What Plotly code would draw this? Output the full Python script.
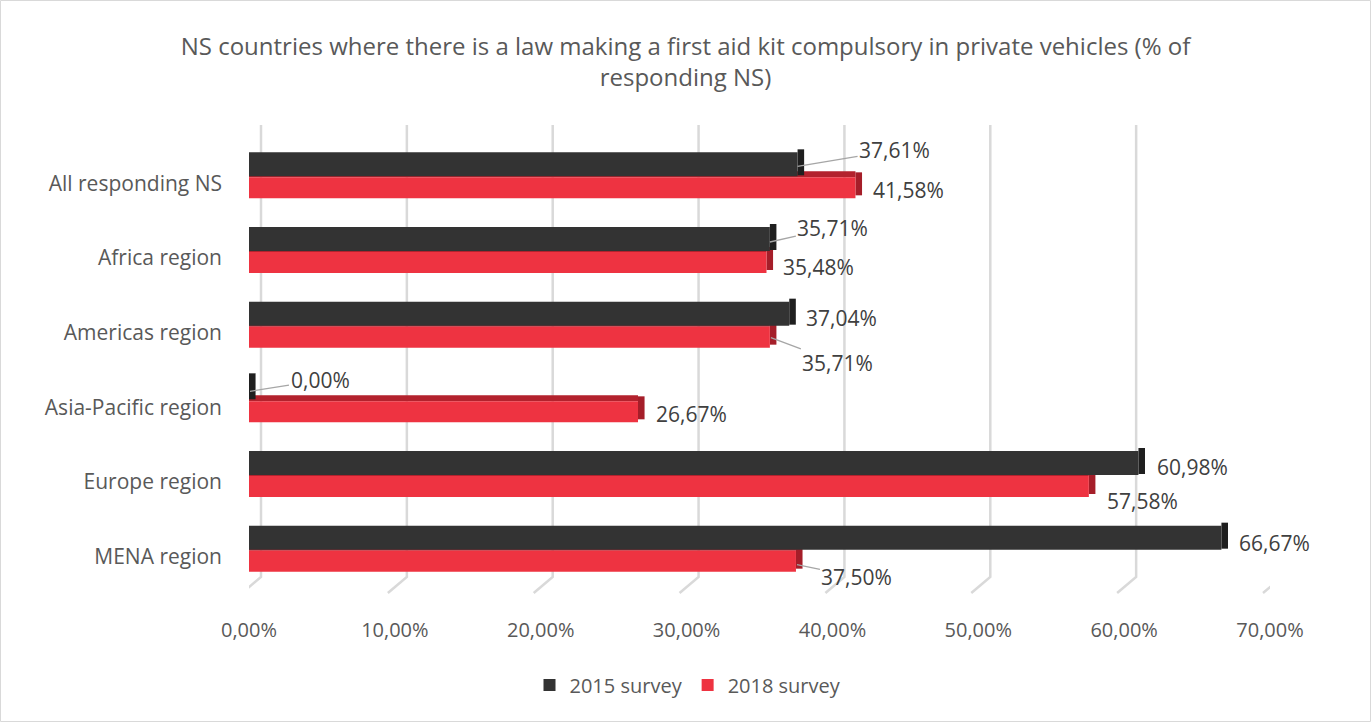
import plotly.graph_objects as go

# --- data -------------------------------------------------------------
categories = [
    "All responding NS",
    "Africa region",
    "Americas region",
    "Asia-Pacific region",
    "Europe region",
    "MENA region",
]
survey_2015 = [37.61, 35.71, 37.04, 0.00, 60.98, 66.67]
survey_2018 = [41.58, 35.48, 35.71, 26.67, 57.58, 37.50]
x_ticks = [0, 10, 20, 30, 40, 50, 60, 70]

# --- styling ----------------------------------------------------------
W, H = 1371, 722
M_L, M_R, M_T, M_B = 249, 101, 146, 128
PLOT_W = W - M_L - M_R
PLOT_H = H - M_T - M_B
FONT = "Open Sans"
TXT = "#595959"
LBL = "#404040"
BLACK, BLACK_SIDE = "#333333", "#1f1f1f"
RED, RED_TOP, RED_SIDE = "#ee3341", "#b3222d", "#a51e29"
DEPTH = 0.45  # extrusion depth of the bar ends, in % units
UNIT = PLOT_H / len(categories)  # pixels per category slot


def band(top_px, bottom_px):
    """offset/width (category units) for a band given in px relative to the category centre"""
    return dict(offset=top_px / UNIT, width=(bottom_px - top_px) / UNIT)


def fmt(v):
    return f"{v:.2f}".replace(".", ",") + "%"


# label placement per bar: (xshift, yshift-down) for plain labels,
# plus arrow tail (ax, ay) for labels with leader lines
labels_2015 = [
    dict(dx=0, dy=-17, ax=97, ay=-16),
    dict(dx=0, dy=-16, ax=63, ay=-14),
    dict(dx=52, dy=-15),
    dict(dx=1, dy=-16, ax=70, ay=-11),
    dict(dx=54, dy=-15),
    dict(dx=53, dy=-14),
]
labels_2018 = [
    dict(dx=53, dy=7),
    dict(dx=52, dy=9),
    dict(dx=1, dy=5, ax=67, ay=25),
    dict(dx=53, dy=7),
    dict(dx=54, dy=19),
    dict(dx=1, dy=8, ax=60, ay=12),
]

fig = go.Figure()

# 2018 bars: top face, side face, front face
fig.add_trace(go.Bar(y=categories, x=survey_2018, orientation="h",
                     marker=dict(color=RED_TOP, line_width=0),
                     showlegend=False, hoverinfo="skip", **band(-12, -6)))
fig.add_trace(go.Bar(y=categories, x=[DEPTH] * len(survey_2018), base=survey_2018,
                     orientation="h", marker=dict(color=RED_SIDE, line_width=0),
                     showlegend=False, hoverinfo="skip", **band(-11, 12)))
fig.add_trace(go.Bar(y=categories, x=survey_2018, orientation="h", name="2018 survey",
                     marker=dict(color=RED, line_width=0), legendrank=2,
                     **band(-6, 15)))

# 2015 bars: side face, front face
fig.add_trace(go.Bar(y=categories, x=[DEPTH] * len(survey_2015), base=survey_2015,
                     orientation="h", marker=dict(color=BLACK_SIDE, line_width=0),
                     showlegend=False, hoverinfo="skip", **band(-34, -8)))
fig.add_trace(go.Bar(y=categories, x=survey_2015, orientation="h", name="2015 survey",
                     marker=dict(color=BLACK, line_width=0), legendrank=1,
                     **band(-31, -7)))

# value labels
annotations = []
for values, specs in ((survey_2015, labels_2015), (survey_2018, labels_2018)):
    for cat, v, s in zip(categories, values, specs):
        a = dict(x=v, y=cat, xref="x", yref="y", text=fmt(v),
                 font=dict(family=FONT, size=21, color=LBL),
                 xshift=s["dx"], yshift=-s["dy"])
        if "ax" in s:
            a.update(showarrow=True, ax=s["ax"], ay=s["ay"], axref="pixel", ayref="pixel",
                     arrowhead=0, arrowwidth=1.3, arrowcolor="#a6a6a6", standoff=0,
                     startstandoff=0)
        else:
            a.update(showarrow=False, xanchor="center", yanchor="middle")
        annotations.append(a)

# gridlines on the back wall, bending onto the floor
px_per_unit = PLOT_W / 70.0
back = 12 / px_per_unit
floor = -7 / px_per_unit
g_top = (PLOT_H + 21) / PLOT_H
g_mid = 17 / PLOT_H
g_bot = 1 / PLOT_H
shapes = []
for t in x_ticks:
    shapes.append(dict(type="path", xref="x", yref="paper", layer="below",
                       path=f"M {t + back} {g_top} L {t + back} {g_mid} L {t + floor} {g_bot}",
                       line=dict(color="#d9d9d9", width=2.5)))
# outer chart border
shapes.append(dict(type="rect", xref="paper", yref="paper",
                   x0=(0.5 - M_L) / PLOT_W, x1=(W - 0.5 - M_L) / PLOT_W,
                   y0=-(M_B - 0.5) / PLOT_H, y1=(PLOT_H + M_T - 0.5) / PLOT_H,
                   line=dict(color="#d9d9d9", width=1), layer="below"))

fig.update_layout(
    width=W, height=H,
    margin=dict(l=M_L, r=M_R, t=M_T, b=M_B),
    paper_bgcolor="white", plot_bgcolor="white",
    barmode="overlay",
    font=dict(family=FONT, size=20, color=TXT),
    title=dict(
        text="NS countries where there is a law making a first aid kit compulsory in private vehicles (% of<br>responding NS)",
        x=0.5, xref="container", xanchor="center",
        y=1 - 55 / H, yref="container", yanchor="top",
        pad=dict(t=0, b=0, l=0, r=0),
        font=dict(family=FONT, size=24, color=TXT),
    ),
    xaxis=dict(range=[0, 70], tickvals=x_ticks, ticktext=[fmt(t) for t in x_ticks],
               showgrid=False, zeroline=False, showline=False, ticks="",
               ticklabelstandoff=22, tickfont=dict(size=20, color=TXT), fixedrange=True),
    yaxis=dict(type="category", categoryorder="array", categoryarray=categories,
               range=[len(categories) - 0.5, -0.5], autorange=False,
               showgrid=False, zeroline=False, showline=False, ticks="",
               ticklabelstandoff=26, tickfont=dict(size=21, color=TXT)),
    legend=dict(orientation="h", x=688 / W, xref="container", xanchor="center",
                y=1 - 685 / H, yref="container", yanchor="middle",
                font=dict(family=FONT, size=20, color=TXT), itemwidth=30,
                traceorder="normal"),
    annotations=annotations,
    shapes=shapes,
)

fig.write_html("out.html")
